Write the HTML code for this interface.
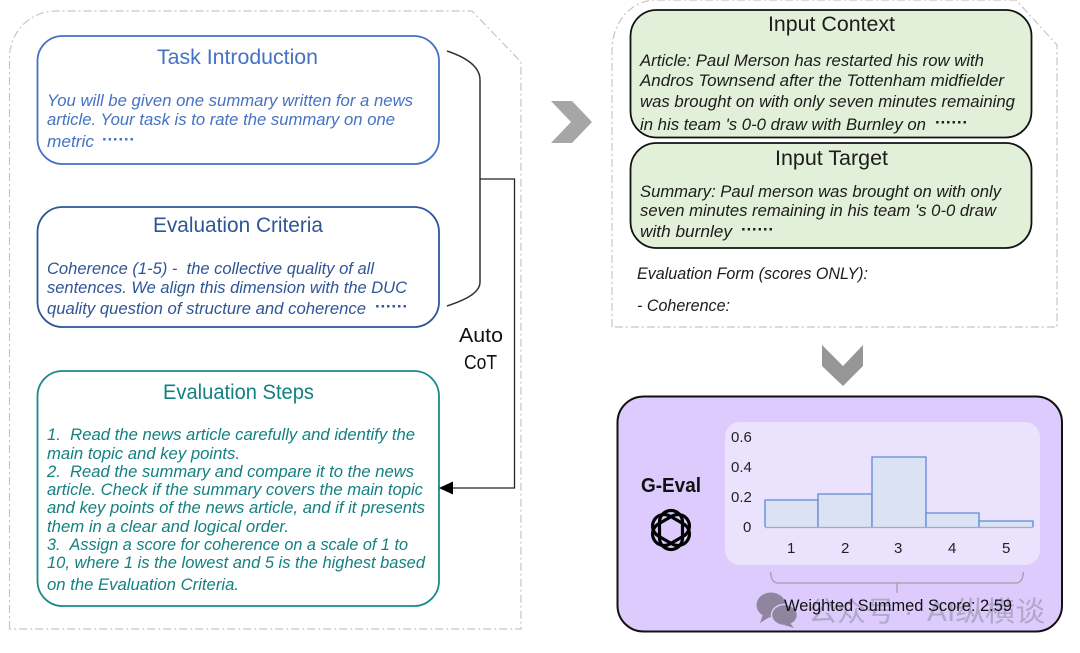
<!DOCTYPE html>
<html lang="en">
<head>
<meta charset="utf-8">
<title>G-Eval diagram</title>
<style>
html,body{margin:0;padding:0;background:#fff;width:1080px;height:653px;overflow:hidden}
svg{display:block}
text{font-family:"Liberation Sans","Noto Sans CJK SC",sans-serif}
.t{font-size:21px;text-anchor:start}
.b{font-size:16.5px;font-style:italic}
.d{font-size:17px;font-weight:700;font-style:normal}
.blue{fill:#4472c4}.navy{fill:#2f5597}.teal{fill:#148080}.ink{fill:#1c1c1c}
</style>
</head>
<body>
<svg width="1080" height="653" viewBox="0 0 1080 653" xmlns="http://www.w3.org/2000/svg">
<rect width="1080" height="653" fill="#fff"/>

<!-- dashed containers -->
<path d="M9.5 629V58C9.5 32 30 11 56 11H472L521 62V629Z" fill="none" stroke="#c6c6c6" stroke-width="1.2" stroke-dasharray="8 3 2 3"/>
<path d="M612 327V50C612 24 630 0 656 0H1016L1057 45V327Z" fill="none" stroke="#c6c6c6" stroke-width="1.2" stroke-dasharray="8 3 2 3"/>

<!-- left boxes -->
<rect x="37.5" y="36" width="401.5" height="128" rx="25" fill="#fff" stroke="#4472c4" stroke-width="1.8"/>
<text class="t blue" x="157" y="64" textLength="161" lengthAdjust="spacingAndGlyphs">Task Introduction</text>
<text class="b blue" x="47" y="106" textLength="366" lengthAdjust="spacingAndGlyphs">You will be given one summary written for a news</text>
<text class="b blue" x="47" y="125" textLength="348" lengthAdjust="spacingAndGlyphs">article. Your task is to rate the summary on one</text>
<text class="b blue" x="47" y="147" textLength="47" lengthAdjust="spacingAndGlyphs">metric</text>
<text class="b d blue" x="102" y="145" textLength="33" lengthAdjust="spacing">······</text>

<rect x="37.5" y="207" width="401.5" height="120" rx="25" fill="#fff" stroke="#2f5597" stroke-width="1.8"/>
<text class="t navy" x="153" y="232" textLength="170" lengthAdjust="spacingAndGlyphs">Evaluation Criteria</text>
<text class="b navy" x="47" y="274" textLength="327" lengthAdjust="spacingAndGlyphs">Coherence (1-5) -&#160;&#160;the collective quality of all</text>
<text class="b navy" x="47" y="293" textLength="360" lengthAdjust="spacingAndGlyphs">sentences. We align this dimension with the DUC</text>
<text class="b navy" x="47" y="314" textLength="319" lengthAdjust="spacingAndGlyphs">quality question of structure and coherence</text>
<text class="b d navy" x="375" y="312" textLength="33" lengthAdjust="spacing">······</text>

<rect x="37.5" y="371" width="401.5" height="235" rx="25" fill="#fff" stroke="#1a8a8a" stroke-width="1.8"/>
<text class="t teal" x="163" y="399" textLength="151" lengthAdjust="spacingAndGlyphs">Evaluation Steps</text>
<text class="b teal" x="47" y="440" textLength="368" lengthAdjust="spacingAndGlyphs">1.&#160;&#160;Read the news article carefully and identify the</text>
<text class="b teal" x="47" y="459" textLength="193" lengthAdjust="spacingAndGlyphs">main topic and key points.</text>
<text class="b teal" x="47" y="477" textLength="367" lengthAdjust="spacingAndGlyphs">2.&#160;&#160;Read the summary and compare it to the news</text>
<text class="b teal" x="47" y="495" textLength="376" lengthAdjust="spacingAndGlyphs">article. Check if the summary covers the main topic</text>
<text class="b teal" x="47" y="513" textLength="378" lengthAdjust="spacingAndGlyphs">and key points of the news article, and if it presents</text>
<text class="b teal" x="47" y="532" textLength="242" lengthAdjust="spacingAndGlyphs">them in a clear and logical order.</text>
<text class="b teal" x="47" y="550" textLength="361" lengthAdjust="spacingAndGlyphs">3.&#160;&#160;Assign a score for coherence on a scale of 1 to</text>
<text class="b teal" x="47" y="568" textLength="378" lengthAdjust="spacingAndGlyphs">10, where 1 is the lowest and 5 is the highest based</text>
<text class="b teal" x="47" y="590" textLength="192" lengthAdjust="spacingAndGlyphs">on the Evaluation Criteria.</text>

<!-- bracket and arrow -->
<path d="M447 51C465 57 480 66 480 80V282C480 293 465 300 447 306" fill="none" stroke="#333" stroke-width="1.5"/>
<path d="M480 179H514.5V488H452" fill="none" stroke="#222" stroke-width="1.3"/>
<path d="M439 488L453 481.5V494.5Z" fill="#000"/>
<text x="459" y="342" font-size="20" fill="#111" textLength="44" lengthAdjust="spacingAndGlyphs">Auto</text>
<text x="464" y="369" font-size="20" fill="#111" textLength="33" lengthAdjust="spacingAndGlyphs">CoT</text>

<!-- chevrons -->
<path d="M551 101H572L592 122L572 143H551L571 122Z" fill="#a6a6a6"/>
<path d="M822 345L843 366L863 345V366L843 386L822 366Z" fill="#969696"/>

<!-- input boxes -->
<rect x="630.5" y="10" width="401" height="127.5" rx="26" fill="#e2efd9" stroke="#111" stroke-width="1.8"/>
<text x="768" y="31" font-size="21" fill="#1c1c1c" textLength="127" lengthAdjust="spacingAndGlyphs">Input Context</text>
<text class="b ink" x="640" y="66" textLength="344" lengthAdjust="spacingAndGlyphs">Article: Paul Merson has restarted his row with</text>
<text class="b ink" x="640" y="86" textLength="364" lengthAdjust="spacingAndGlyphs">Andros Townsend after the Tottenham midfielder</text>
<text class="b ink" x="640" y="107" textLength="375" lengthAdjust="spacingAndGlyphs">was brought on with only seven minutes remaining</text>
<text class="b ink" x="640" y="130" textLength="286" lengthAdjust="spacingAndGlyphs">in his team 's 0-0 draw with Burnley on</text>
<text class="b d ink" x="935" y="128" textLength="33" lengthAdjust="spacing">······</text>

<rect x="630.5" y="143" width="401" height="105" rx="26" fill="#e2efd9" stroke="#111" stroke-width="1.8"/>
<text x="775" y="165" font-size="21" fill="#1c1c1c" textLength="113" lengthAdjust="spacingAndGlyphs">Input Target</text>
<text class="b ink" x="640" y="197" textLength="361" lengthAdjust="spacingAndGlyphs">Summary: Paul merson was brought on with only</text>
<text class="b ink" x="640" y="216" textLength="356" lengthAdjust="spacingAndGlyphs">seven minutes remaining in his team 's 0-0 draw</text>
<text class="b ink" x="640" y="237" textLength="92" lengthAdjust="spacingAndGlyphs">with burnley</text>
<text class="b d ink" x="741" y="235" textLength="33" lengthAdjust="spacing">······</text>

<text class="b ink" x="637" y="279" textLength="231" lengthAdjust="spacingAndGlyphs">Evaluation Form (scores ONLY):</text>
<text class="b ink" x="637" y="311" textLength="93" lengthAdjust="spacingAndGlyphs">- Coherence:</text>

<!-- G-Eval panel -->
<rect x="617.5" y="396.5" width="444.500" height="235" rx="26" fill="#dccbfc" stroke="#111" stroke-width="2"/>
<rect x="725" y="422" width="315" height="143" rx="15" fill="#ebe2fd"/>
<text x="641" y="492" font-size="20" font-weight="700" fill="#111" textLength="60" lengthAdjust="spacingAndGlyphs">G-Eval</text>
<g transform="translate(671 530)" fill="none" stroke="#000" stroke-width="3.2">
<rect x="-11.5" y="-19.5" width="23" height="39" rx="11.5"/>
<rect x="-11.5" y="-19.5" width="23" height="39" rx="11.5" transform="rotate(60)"/>
<rect x="-11.5" y="-19.5" width="23" height="39" rx="11.5" transform="rotate(120)"/>
</g>

<g font-size="15" fill="#222">
<text x="731" y="442">0.6</text>
<text x="731" y="472">0.4</text>
<text x="731" y="502">0.2</text>
<text x="743" y="532">0</text>
<text x="787" y="553">1</text>
<text x="841" y="553">2</text>
<text x="894" y="553">3</text>
<text x="948" y="553">4</text>
<text x="1002" y="553">5</text>
</g>
<g fill="#dbe2f3" stroke="#5b8ad6" stroke-width="1.3">
<path d="M765 527V500H818V527"/>
<path d="M818 527V494H872V527"/>
<path d="M872 527V457H926V527"/>
<path d="M926 527V513H979V527"/>
<path d="M979 527V521H1033V527"/>
</g>
<path d="M765 527.5H1033" stroke="#a9a9b8" stroke-width="1.2"/>

<path d="M770.5 572C771 579 773 583 778 583H1016C1021 583 1023 579 1023.5 572M897 583V593" fill="none" stroke="#a49ca8" stroke-width="1.3"/>

<!-- watermark -->
<ellipse cx="771" cy="605" rx="14.5" ry="12.5" fill="#8f859e"/>
<path d="M763 614L760 623L771 616Z" fill="#8f859e"/>
<ellipse cx="784.5" cy="615" rx="13" ry="10.5" fill="#8f859e" stroke="#dccbfc" stroke-width="1.5"/>
<path d="M790 623L794 628L784 625Z" fill="#8f859e"/>
<g fill="#7a7488" opacity=".42" font-size="28">
<text x="808" y="621" textLength="87" lengthAdjust="spacingAndGlyphs">公众号</text>
<text x="904" y="621">·</text>
<text x="927" y="621" textLength="118" lengthAdjust="spacingAndGlyphs">AI纵横谈</text>
</g>
<text x="784" y="611" font-size="17" fill="#111" textLength="228" lengthAdjust="spacingAndGlyphs">Weighted Summed Score: 2.59</text>
</svg>
</body>
</html>
